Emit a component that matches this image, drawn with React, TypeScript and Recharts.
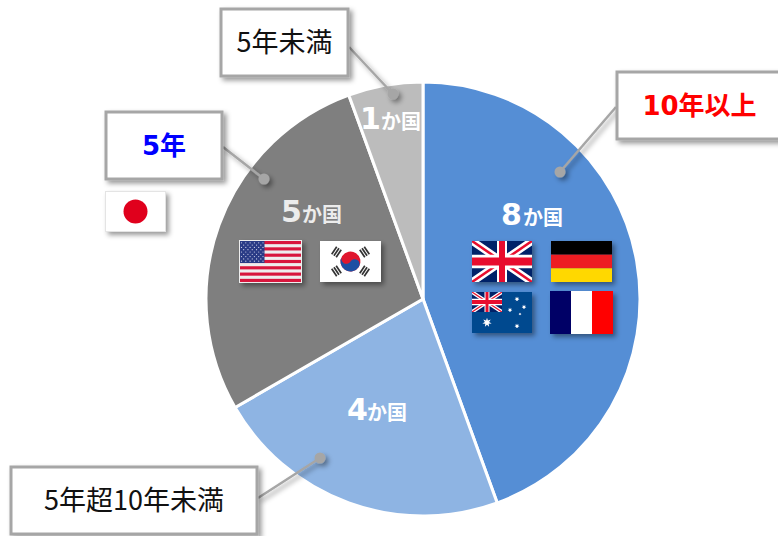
import { Cell, Pie, PieChart } from "recharts";

const categories = ["10年以上", "5年超10年未満", "5年", "5年未満"];
const countries = [8, 4, 5, 1];
const sliceColors = ["#558ed5", "#8eb4e3", "#7f7f7f", "#bcbcbc"];
const labelAnchors = [
  { x: 501, y: 225, gap: 22 },
  { x: 347, y: 420, gap: 20 },
  { x: 281, y: 222, gap: 21 },
  { x: 360, y: 129, gap: 21 }
];

const chartData = categories.map((name, i) => ({ name, value: countries[i] }));

const JP_FONT = '"Noto Sans CJK JP", sans-serif';
const BOLD_FONT = '"DejaVu Sans", "Noto Sans CJK JP", sans-serif';

type CalloutProps = {
  box: [number, number, number, number];
  from: [number, number];
  dot: [number, number];
  text: string;
  color?: string;
  bold?: boolean;
};

function Callout({ box, from, dot, text, color = "#111", bold = false }: CalloutProps) {
  const [x, y, w, h] = box;
  return (
    <g>
      <g filter="url(#shadow)">
        <line x1={from[0]} y1={from[1]} x2={dot[0]} y2={dot[1]} stroke="#a6a6a6" strokeWidth={2.5} />
        <circle cx={dot[0]} cy={dot[1]} r={5.5} fill="#a6a6a6" />
      </g>
      <rect
        x={x}
        y={y}
        width={w}
        height={h}
        fill="#fff"
        stroke="#a6a6a6"
        strokeWidth={3}
        filter="url(#shadow)"
      />
      <text
        x={x + w / 2}
        y={y + h / 2 + 9}
        textAnchor="middle"
        fontSize={bold ? 26 : 27}
        fontWeight={bold ? 700 : 400}
        fontFamily={bold ? BOLD_FONT : JP_FONT}
        fill={color}
      >
        {text}
      </text>
    </g>
  );
}

function FlagBox({ x, y, w, h, vw, vh, children }: any) {
  return (
    <g filter="url(#shadow)">
      <svg x={x} y={y} width={w} height={h} viewBox={`0 0 ${vw} ${vh}`} preserveAspectRatio="none">
        {children}
      </svg>
    </g>
  );
}

function UnionJack() {
  return (
    <>
      <rect width={60} height={30} fill="#012169" />
      <path d="M0,0L60,30M60,0L0,30" stroke="#fff" strokeWidth={6} />
      <path d="M0,0L60,30M60,0L0,30" stroke="#e8112d" strokeWidth={2} />
      <path d="M30,0V30M0,15H60" stroke="#fff" strokeWidth={10} />
      <path d="M30,0V30M0,15H60" stroke="#e8112d" strokeWidth={6} />
    </>
  );
}

function starPath(cx: number, cy: number, r: number, points = 7) {
  const pts: string[] = [];
  for (let i = 0; i < points * 2; i++) {
    const rad = i % 2 === 0 ? r : r * 0.45;
    const a = (Math.PI * i) / points - Math.PI / 2;
    pts.push(`${cx + rad * Math.cos(a)},${cy + rad * Math.sin(a)}`);
  }
  return `M${pts.join("L")}Z`;
}

function Australia() {
  const stars: [number, number, number][] = [
    [45, 7, 2.6],
    [38, 18, 2.4],
    [52, 15, 2.4],
    [48, 22, 1.5],
    [45, 34, 2.6]
  ];
  return (
    <>
      <rect width={60} height={41} fill="#03488f" />
      <svg width={30} height={20} viewBox="0 0 60 30" preserveAspectRatio="none">
        <UnionJack />
      </svg>
      <path d={starPath(15, 30.5, 4.8)} fill="#fff" />
      {stars.map(([x, y, r]) => (
        <path key={`${x}-${y}`} d={starPath(x, y, r)} fill="#fff" />
      ))}
    </>
  );
}

function UnitedStates() {
  const stripes = [0, 2, 4, 6, 8, 10, 12];
  const rows = [0, 1, 2, 3, 4, 5, 6, 7, 8];
  const cols = [0, 1, 2, 3, 4, 5, 6, 7, 8, 9, 10];
  return (
    <>
      <rect width={63} height={43} fill="#eee" />
      <g transform="translate(1,1)">
        {stripes.map((s) => (
          <rect key={s} y={(s * 41) / 13} width={61} height={41 / 13} fill="#d8193c" />
        ))}
        <rect width={24.5} height={22} fill="#2b3a86" />
        {rows.map((r) =>
          cols.map((c) =>
            (r + c) % 2 === 0 ? (
              <circle key={`${r}-${c}`} cx={1.5 + c * 2.15} cy={1.8 + r * 2.3} r={0.6} fill="#cfd4ea" />
            ) : null
          )
        )}
      </g>
    </>
  );
}

function Korea() {
  const angles = [-56, 56, 124, -124];
  const bars = [-20.5, -17.8, -15.1];
  return (
    <>
      <rect width={61} height={41} fill="#fff" />
      <g transform="translate(30.5,20.5)">
        {angles.map((a) => (
          <g key={a} transform={`rotate(${a})`}>
            {bars.map((b) => (
              <rect key={b} x={-4.5} y={b} width={9} height={1.7} fill="#333" />
            ))}
          </g>
        ))}
        <g transform="rotate(33.7)">
          <circle r={10} fill="#e0182d" />
          <path d="M-10,0A5,5 0 0 0 0,0A5,5 0 0 1 10,0A10,10 0 0 1 -10,0Z" fill="#1f4fa3" />
        </g>
      </g>
    </>
  );
}

function renderCountLabel(props: any) {
  const anchor = labelAnchors[props.index];
  const isGrey = props.index === 2;
  return (
    <text
      x={anchor.x}
      y={anchor.y}
      fill={isGrey ? "#ececec" : "#fff"}
      fontFamily={BOLD_FONT}
      fontWeight={700}
      fontSize={30}
    >
      <tspan>{countries[props.index]}</tspan>
      <tspan x={anchor.x + anchor.gap} fontSize={20} fontFamily={JP_FONT}>
        か国
      </tspan>
    </text>
  );
}

export default function App() {
  return (
    <div style={{ position: "absolute", left: 0, top: 0, width: 778, height: 536, overflow: "hidden", background: "#fff" }}>
      <div style={{ position: "absolute", left: 0, top: 0 }}>
        <PieChart width={778} height={536} margin={{ top: 0, right: 0, bottom: 0, left: 0 }}>
          <Pie
            data={chartData}
            dataKey="value"
            nameKey="name"
            cx={423}
            cy={299}
            innerRadius={0}
            outerRadius={217}
            startAngle={90}
            endAngle={-270}
            stroke="#fff"
            strokeWidth={3}
            label={renderCountLabel}
            labelLine={false}
            isAnimationActive={false}
          >
            {chartData.map((d, i) => (
              <Cell key={d.name} fill={sliceColors[i]} />
            ))}
          </Pie>
        </PieChart>
      </div>
      <svg width={778} height={536} style={{ position: "absolute", left: 0, top: 0 }}>
        <defs>
          <filter id="shadow" x="-20%" y="-20%" width="150%" height="150%">
            <feDropShadow dx={3} dy={3} stdDeviation={2.5} floodColor="#000" floodOpacity={0.4} />
          </filter>
        </defs>

        <Callout box={[221, 9, 127, 67]} from={[349, 47]} dot={[393, 94]} text="5年未満" />
        <Callout box={[106, 112, 116, 67]} from={[223, 147]} dot={[264, 179]} text="5年" color="#0000ff" bold />
        <Callout box={[617, 72, 165, 67]} from={[616, 107]} dot={[560, 172]} text="10年以上" color="#ff0000" bold />
        <Callout box={[11, 467, 246, 67]} from={[258, 498]} dot={[320, 458]} text="5年超10年未満" />

        <FlagBox x={105} y={191} w={61} h={41} vw={61} vh={41}>
          <rect x={0.5} y={0.5} width={60} height={40} fill="#fff" stroke="#e4e4e4" />
          <circle cx={30.5} cy={20.5} r={12} fill="#e0001f" />
        </FlagBox>

        <FlagBox x={472} y={241} w={60} h={41} vw={60} vh={30}>
          <UnionJack />
        </FlagBox>
        <FlagBox x={551} y={241} w={61} h={41} vw={3} vh={3}>
          <rect width={3} height={1} fill="#000" />
          <rect y={1} width={3} height={1} fill="#ed1c24" />
          <rect y={2} width={3} height={1} fill="#ffd800" />
        </FlagBox>
        <FlagBox x={472} y={292} w={60} h={41} vw={60} vh={41}>
          <Australia />
        </FlagBox>
        <FlagBox x={550} y={291} w={63} h={43} vw={3} vh={1}>
          <rect width={1} height={1} fill="#000066" />
          <rect x={1} width={1} height={1} fill="#fff" />
          <rect x={2} width={1} height={1} fill="#ff0000" />
        </FlagBox>
        <FlagBox x={239} y={240} w={63} h={43} vw={63} vh={43}>
          <UnitedStates />
        </FlagBox>
        <FlagBox x={320} y={241} w={61} h={41} vw={61} vh={41}>
          <Korea />
        </FlagBox>
      </svg>
    </div>
  );
}
